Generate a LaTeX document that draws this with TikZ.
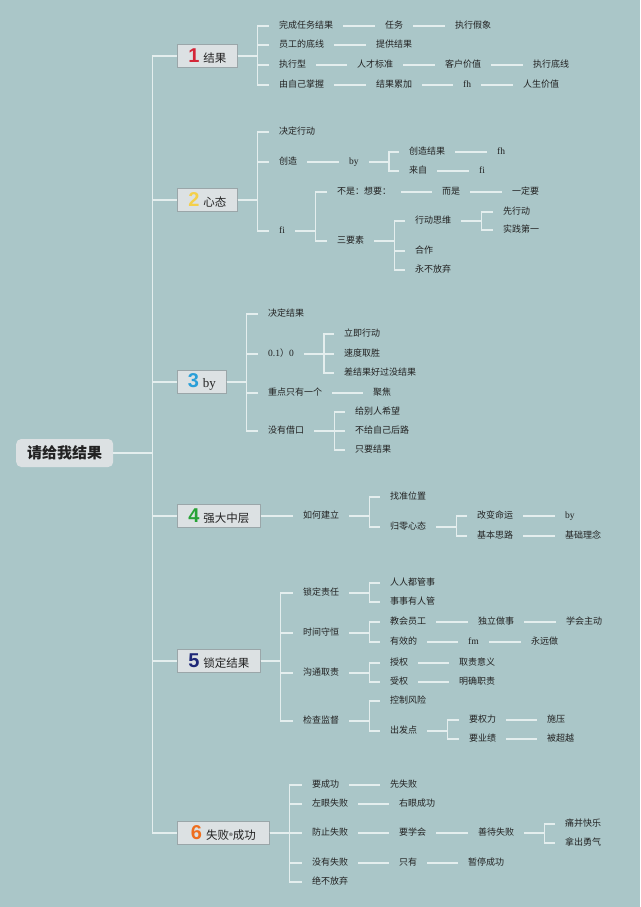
\documentclass[tikz,border=0pt]{standalone}
\usepackage{fontspec}
\setmainfont{Liberation Serif}
\newfontfamily\cjk{Noto Sans CJK SC}
\newfontfamily\lat{Liberation Serif}
\newfontfamily\numf{Liberation Sans}
\definecolor{bg}{HTML}{AAC6C8}
\definecolor{lnc}{HTML}{E4EEEE}
\definecolor{txt}{HTML}{222222}
\definecolor{bxf}{HTML}{DCE1E3}
\definecolor{bxd}{HTML}{9AA6A9}
\definecolor{n1}{HTML}{D42638}
\definecolor{n2}{HTML}{F4D04A}
\definecolor{n3}{HTML}{2A9FD8}
\definecolor{n4}{HTML}{26A236}
\definecolor{n5}{HTML}{1E2878}
\definecolor{n6}{HTML}{EE6E1E}
\newcommand\bnum[2]{\textcolor{#1}{\numf\bfseries\fontsize{20}{20}\selectfont #2}\hspace{4pt}}
\newcommand\btxt{\cjk\fontsize{11.5}{13}\selectfont}
\begin{document}
\begin{tikzpicture}[x=1pt,y=-1pt,
  t/.style={anchor=west, inner sep=0pt, text=txt, font=\cjk\fontsize{9}{11}\selectfont, text height=7pt, text depth=2pt},
  l/.style={t, font=\lat\fontsize{9.5}{11}\selectfont},
  box/.style={anchor=west, draw=bxd, fill=bxf, line width=0.7pt, minimum height=23pt, inner xsep=4pt, inner ysep=0pt, text=txt},
  ln/.style={draw=lnc, line width=1.2pt}]
\fill[bg] (0,0) rectangle (640,907);
\useasboundingbox (0,0) rectangle (640,907);

% root
\node[anchor=west, fill=bxf, rounded corners=5pt, minimum width=97pt, minimum height=28pt, inner sep=0pt, text=txt, font=\cjk\bfseries\fontsize{15}{17}\selectfont] (root) at (16,453) {请给我结果};

% main boxes
\node[box, minimum width=60pt] (b1) at (177,56) {\bnum{n1}{1}\btxt 结果};
\node[box, minimum width=60pt] (b2) at (177,200) {\bnum{n2}{2}\btxt 心态};
\node[box, minimum width=49pt] (b3) at (177,382) {\bnum{n3}{3}{\lat\fontsize{13}{14}\selectfont by}};
\node[box, minimum width=83pt] (b4) at (177,516) {\bnum{n4}{4}\btxt 强大中层};
\node[box, minimum width=83pt] (b5) at (177,661) {\bnum{n5}{5}\btxt 锁定结果};
\node[box, minimum width=92pt] (b6) at (177,833) {\bnum{n6}{6}\btxt 失败{\fontsize{8}{9}\selectfont ®}成功};

\foreach \b in {b1,b2,b3,b4,b5,b6}
  \draw[ln] (root.east) -- ++(39pt,0) |- (\b.west);

% Branch 1
\node[t] (a1) at (279,26) {完成任务结果};
\node[t] (a1b) at (385,26) {任务};
\node[t] (a1c) at (455,26) {执行假象};
\node[t] (a2) at (279,45) {员工的底线};
\node[t] (a2b) at (376,45) {提供结果};
\node[t] (a3) at (279,65) {执行型};
\node[t] (a3b) at (357,65) {人才标准};
\node[t] (a3c) at (445,65) {客户价值};
\node[t] (a3d) at (533,65) {执行底线};
\node[t] (a4) at (279,85) {由自己掌握};
\node[t] (a4b) at (376,85) {结果累加};
\node[l] (a4c) at (463,85) {fh};
\node[t] (a4d) at (523,85) {人生价值};
\foreach \c in {a1,a2,a3,a4}
  \draw[ln] (b1.east) -- ++(20pt,0) |- ([xshift=-10pt]\c.west);
\foreach \p/\q in {a1/a1b,a1b/a1c,a2/a2b,a3/a3b,a3b/a3c,a3c/a3d,a4/a4b,a4b/a4c,a4c/a4d}
  \draw[ln] ([xshift=10pt]\p.east) -- ([xshift=-10pt]\q.west);

% Branch 2
\node[t] (c1) at (279,132) {决定行动};
\node[t] (c2) at (279,162) {创造};
\node[l] (c2b) at (349,162) {by};
\node[t] (c2c) at (409,152) {创造结果};
\node[l] (c2d) at (497,152) {fh};
\node[t] (c2e) at (409,171) {来自};
\node[l] (c2f) at (479,171) {fi};
\node[l] (c3) at (279,231) {fi};
\node[t] (c3a) at (337,192) {不是：想要：};
\node[t] (c3b) at (442,192) {而是};
\node[t] (c3c) at (512,192) {一定要};
\node[t] (c3d) at (337,241) {三要素};
\node[t] (c3e) at (415,221) {行动思维};
\node[t] (c3f) at (503,212) {先行动};
\node[t] (c3g) at (503,230) {实践第一};
\node[t] (c3h) at (415,251) {合作};
\node[t] (c3i) at (415,270) {永不放弃};
\foreach \c in {c1,c2,c3}
  \draw[ln] (b2.east) -- ++(20pt,0) |- ([xshift=-10pt]\c.west);
\foreach \p/\q in {c2b/c2c,c2b/c2e,c3/c3a,c3/c3d,c3d/c3e,c3d/c3h,c3d/c3i,c3e/c3f,c3e/c3g}
  \draw[ln] ([xshift=10pt]\p.east) -- ++(20pt,0) |- ([xshift=-10pt]\q.west);
\foreach \p/\q in {c2/c2b,c2c/c2d,c2e/c2f,c3a/c3b,c3b/c3c}
  \draw[ln] ([xshift=10pt]\p.east) -- ([xshift=-10pt]\q.west);

% Branch 3
\node[t] (d1) at (268,314) {决定结果};
\node[t] (d2) at (268,354) {{\lat\fontsize{9.5}{11}\selectfont 0.1}）{\lat\fontsize{9.5}{11}\selectfont 0}};
\node[t] (d2a) at (344,334) {立即行动};
\node[t] (d2b) at (344,354) {速度取胜};
\node[t] (d2c) at (344,373) {差结果好过没结果};
\node[t] (d3) at (268,393) {重点只有一个};
\node[t] (d3a) at (373,393) {聚焦};
\node[t] (d4) at (268,431) {没有借口};
\node[t] (d4a) at (355,412) {给别人希望};
\node[t] (d4b) at (355,431) {不给自己后路};
\node[t] (d4c) at (355,450) {只要结果};
\foreach \c in {d1,d2,d3,d4}
  \draw[ln] (b3.east) -- ++(20pt,0) |- ([xshift=-10pt]\c.west);
\foreach \p/\q in {d2/d2a,d2/d2b,d2/d2c,d4/d4a,d4/d4b,d4/d4c}
  \draw[ln] ([xshift=10pt]\p.east) -- ++(20pt,0) |- ([xshift=-10pt]\q.west);
\draw[ln] ([xshift=10pt]d3.east) -- ([xshift=-10pt]d3a.west);

% Branch 4
\node[t] (e1) at (303,516) {如何建立};
\node[t] (e2) at (390,497) {找准位置};
\node[t] (e3) at (390,527) {归零心态};
\node[t] (e4) at (477,516) {改变命运};
\node[l] (e4a) at (565,516) {by};
\node[t] (e5) at (477,536) {基本思路};
\node[t] (e5a) at (565,536) {基础理念};
\draw[ln] (b4.east) -- ([xshift=-10pt]e1.west);
\foreach \p/\q in {e1/e2,e1/e3,e3/e4,e3/e5}
  \draw[ln] ([xshift=10pt]\p.east) -- ++(20pt,0) |- ([xshift=-10pt]\q.west);
\foreach \p/\q in {e4/e4a,e5/e5a}
  \draw[ln] ([xshift=10pt]\p.east) -- ([xshift=-10pt]\q.west);

% Branch 5
\node[t] (f1) at (303,593) {锁定责任};
\node[t] (f1a) at (390,583) {人人都管事};
\node[t] (f1b) at (390,602) {事事有人管};
\node[t] (f2) at (303,633) {时间守恒};
\node[t] (f2a) at (390,622) {教会员工};
\node[t] (f2b) at (478,622) {独立做事};
\node[t] (f2c) at (566,622) {学会主动};
\node[t] (f2d) at (390,642) {有效的};
\node[l] (f2e) at (468,642) {fm};
\node[t] (f2f) at (531,642) {永远做};
\node[t] (f3) at (303,673) {沟通取责};
\node[t] (f3a) at (390,663) {授权};
\node[t] (f3b) at (459,663) {取责意义};
\node[t] (f3c) at (390,682) {受权};
\node[t] (f3d) at (459,682) {明确职责};
\node[t] (f4) at (303,721) {检查监督};
\node[t] (f4a) at (390,701) {控制风险};
\node[t] (f4b) at (390,731) {出发点};
\node[t] (f4c) at (469,720) {要权力};
\node[t] (f4d) at (547,720) {施压};
\node[t] (f4e) at (469,739) {要业绩};
\node[t] (f4f) at (547,739) {被超越};
\foreach \c in {f1,f2,f3,f4}
  \draw[ln] (b5.east) -- ++(20pt,0) |- ([xshift=-10pt]\c.west);
\foreach \p/\q in {f1/f1a,f1/f1b,f2/f2a,f2/f2d,f3/f3a,f3/f3c,f4/f4a,f4/f4b,f4b/f4c,f4b/f4e}
  \draw[ln] ([xshift=10pt]\p.east) -- ++(20pt,0) |- ([xshift=-10pt]\q.west);
\foreach \p/\q in {f2a/f2b,f2b/f2c,f2d/f2e,f2e/f2f,f3a/f3b,f3c/f3d,f4c/f4d,f4e/f4f}
  \draw[ln] ([xshift=10pt]\p.east) -- ([xshift=-10pt]\q.west);

% Branch 6
\node[t] (g1) at (312,785) {要成功};
\node[t] (g1a) at (390,785) {先失败};
\node[t] (g2) at (312,804) {左眼失败};
\node[t] (g2a) at (399,804) {右眼成功};
\node[t] (g3) at (312,833) {防止失败};
\node[t] (g3a) at (399,833) {要学会};
\node[t] (g3b) at (478,833) {善待失败};
\node[t] (g3c) at (565,824) {痛并快乐};
\node[t] (g3d) at (565,843) {拿出勇气};
\node[t] (g4) at (312,863) {没有失败};
\node[t] (g4a) at (399,863) {只有};
\node[t] (g4b) at (468,863) {暂停成功};
\node[t] (g5) at (312,882) {绝不放弃};
\foreach \c in {g1,g2,g3,g4,g5}
  \draw[ln] (b6.east) -- ++(20pt,0) |- ([xshift=-10pt]\c.west);
\foreach \p/\q in {g3b/g3c,g3b/g3d}
  \draw[ln] ([xshift=10pt]\p.east) -- ++(20pt,0) |- ([xshift=-10pt]\q.west);
\foreach \p/\q in {g1/g1a,g2/g2a,g3/g3a,g3a/g3b,g4/g4a,g4a/g4b}
  \draw[ln] ([xshift=10pt]\p.east) -- ([xshift=-10pt]\q.west);
\end{tikzpicture}
\end{document}
